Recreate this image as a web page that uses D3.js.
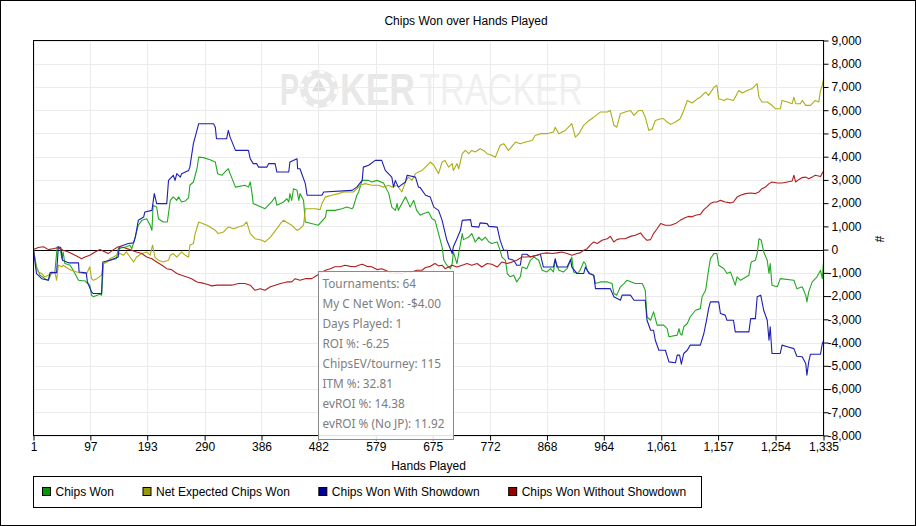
<!DOCTYPE html>
<html>
<head>
<meta charset="utf-8">
<script src="https://cdn.jsdelivr.net/npm/d3@7"></script>
<style>
  body { margin: 0; background: #fff; }
  svg { display: block; font-family: "Liberation Sans", Arial, sans-serif; }
  .tip-text { font-family: "Noto Sans", sans-serif; font-size: 11.8px; fill: #7d7d7d; }
</style>
</head>
<body>
<svg id="chart" width="916" height="526"></svg>
<script>
const title = "Chips Won over Hands Played";
const xTicks = [1, 97, 193, 290, 386, 482, 579, 675, 772, 868, 964, 1061, 1157, 1254, 1335];
const yTicks = [-8000, -7000, -6000, -5000, -4000, -3000, -2000, -1000, 0, 1000, 2000, 3000, 4000, 5000, 6000, 7000, 8000, 9000];
const seriesNames = ["Chips Won", "Net Expected Chips Won", "Chips Won With Showdown", "Chips Won Without Showdown"];
const lineColors = ["#22a822", "#adad16", "#1e1eb4", "#b31e1e"];
const swatchColors = ["#009900", "#999900", "#000099", "#990000"];
const tipLines = ["Tournaments: 64", "My C Net Won: -$4.00", "Days Played: 1", "ROI %: -6.25", "ChipsEV/tourney: 115", "ITM %: 32.81", "evROI %: 14.38", "evROI % (No JP): 11.92"];

// [hand, chips]
const chipsWon = [[1,0],[6,-740],[12,-1100],[20,-1250],[26,-1320],[32,-960],[37,-1000],[41,120],[46,40],[49,-390],[51,-100],[54,-600],[63,-670],[71,-1030],[77,-1320],[88,-1350],[91,-1430],[96,-1530],[99,-1960],[102,-2030],[113,-1920],[116,-1960],[119,-600],[130,-460],[141,-390],[144,40],[158,120],[164,190],[167,40],[172,470],[178,1050],[184,1260],[192,1330],[198,1050],[201,830],[203,1910],[209,1830],[212,1330],[220,1190],[227,1190],[232,2120],[237,2270],[243,2120],[246,2270],[251,2050],[257,2090],[263,2240],[265,2770],[271,2910],[277,3480],[280,3980],[288,3960],[299,3870],[308,3770],[312,3270],[319,3200],[327,3410],[330,3480],[333,3270],[342,2690],[358,2770],[364,2690],[367,2910],[370,2410],[372,1980],[392,1760],[403,2050],[409,2260],[412,1910],[423,2050],[429,2190],[432,2050],[434,2410],[437,2120],[440,2620],[446,2550],[449,2120],[451,2410],[457,2120],[460,1190],[482,1050],[494,1400],[496,1690],[510,1690],[522,1760],[530,1830],[539,1760],[541,1830],[547,2340],[550,2480],[556,2980],[567,2980],[572,2910],[581,2980],[592,2870],[601,2410],[606,1830],[612,1690],[615,1980],[617,1690],[629,2270],[632,2120],[637,1830],[643,2120],[648,1690],[654,1480],[660,1550],[668,1620],[674,1330],[679,1260],[685,690],[691,110],[694,-460],[699,-670],[705,-820],[708,-600],[710,-100],[716,-600],[719,-170],[725,690],[727,430],[736,540],[741,690],[747,330],[753,540],[758,400],[764,540],[770,330],[775,260],[784,330],[789,-30],[792,-320],[798,-460],[801,-1030],[806,-1170],[812,-1100],[817,-1390],[823,-1170],[826,-750],[834,-820],[840,-460],[846,-320],[854,-460],[860,-890],[868,-960],[874,-820],[879,-960],[882,-460],[888,-890],[896,-960],[902,-820],[908,-460],[910,-320],[913,-960],[919,-1030],[924,-890],[930,-530],[933,-600],[936,-890],[941,-1030],[947,-1100],[950,-1460],[958,-1390],[970,-1390],[978,-1460],[981,-1890],[986,-1960],[992,-1600],[998,-1460],[1003,-1320],[1017,-1460],[1029,-1460],[1034,-1750],[1037,-2890],[1043,-3040],[1048,-2680],[1054,-3250],[1065,-3250],[1071,-3400],[1074,-3750],[1088,-3680],[1091,-3400],[1093,-3610],[1096,-3680],[1099,-3320],[1105,-3180],[1110,-2890],[1119,-2610],[1127,-2540],[1130,-2030],[1136,-1750],[1140,-1030],[1144,-390],[1150,-170],[1155,-170],[1158,-670],[1167,-820],[1172,-1030],[1178,-960],[1186,-1530],[1189,-1170],[1195,-1320],[1209,-1100],[1213,-530],[1220,-460],[1223,-170],[1226,470],[1230,400],[1234,-100],[1240,-460],[1243,-1030],[1245,-600],[1248,-1530],[1257,-1600],[1262,-1250],[1285,-1320],[1290,-1680],[1299,-1600],[1305,-1960],[1307,-2250],[1310,-1820],[1316,-1390],[1324,-1170],[1330,-890],[1333,-1250],[1335,-530]];

const netExpected = [[1,0],[5,-740],[9,-960],[15,-1030],[20,-1180],[26,-1100],[32,-1030],[37,-960],[40,-1320],[43,-670],[49,-740],[51,-670],[60,-820],[65,-890],[74,-960],[85,-1030],[91,-1030],[96,-740],[99,-1250],[102,-1320],[108,-1250],[116,-1100],[119,-600],[125,-530],[130,-390],[136,-320],[141,-240],[147,-170],[153,-240],[158,-100],[164,-320],[170,-530],[175,-320],[184,-170],[192,-100],[198,-240],[202,190],[206,-320],[212,-460],[220,-530],[229,-460],[232,-240],[237,-170],[243,-320],[251,-100],[257,-240],[263,-320],[265,190],[271,260],[274,690],[280,1190],[294,1050],[308,830],[313,690],[322,760],[330,975],[339,900],[347,970],[356,1050],[361,1190],[367,690],[375,470],[387,400],[392,330],[401,540],[412,900],[418,1120],[423,1260],[432,1120],[437,1050],[446,830],[451,900],[457,1050],[460,1760],[477,1760],[485,1720],[488,1980],[494,2270],[505,2340],[516,2410],[525,2480],[541,2480],[547,2620],[553,2770],[561,2840],[572,2770],[584,2770],[592,2690],[601,2770],[606,2690],[615,2770],[623,2480],[629,2910],[634,3120],[640,2980],[646,3270],[651,3340],[657,3410],[663,3550],[671,3770],[677,3630],[685,3270],[691,3770],[696,3840],[702,3550],[708,3700],[710,3410],[716,3700],[719,3480],[725,4130],[730,4270],[736,4130],[741,4270],[747,4200],[755,4340],[761,4270],[767,4130],[775,4060],[781,3980],[789,4490],[795,4560],[803,4270],[815,4630],[823,4560],[832,4630],[843,4700],[848,4910],[857,4990],[868,4990],[879,5060],[882,5270],[888,4990],[899,5130],[910,5420],[916,4840],[922,4990],[930,5350],[939,5560],[947,5700],[958,5920],[970,5920],[975,5990],[981,5350],[986,5270],[992,5850],[1000,5920],[1009,5990],[1015,5780],[1023,5990],[1029,5990],[1034,5700],[1040,5130],[1046,5200],[1051,5560],[1060,5630],[1065,5630],[1071,5490],[1077,5390],[1085,5490],[1093,5630],[1099,5990],[1105,6420],[1113,6310],[1122,6490],[1127,6560],[1136,6780],[1141,6640],[1150,6990],[1155,7070],[1158,6490],[1167,6420],[1172,6490],[1178,6450],[1183,6420],[1192,6850],[1198,6740],[1206,6850],[1214,6920],[1223,7140],[1226,6560],[1231,6350],[1240,6350],[1248,6210],[1254,6060],[1262,6060],[1265,6420],[1274,6350],[1282,6280],[1285,6560],[1288,6280],[1296,6280],[1299,6420],[1305,6210],[1313,6210],[1321,6420],[1327,6350],[1330,6850],[1333,7070],[1335,7350]];

const withShowdown = [[1,0],[6,-1030],[15,-1250],[26,-1320],[29,-990],[40,-990],[43,120],[47,90],[50,-460],[60,-570],[77,-570],[78,-960],[90,-1000],[92,-1390],[99,-1820],[102,-1890],[116,-1890],[118,-530],[130,-460],[144,-320],[146,120],[161,260],[170,290],[173,540],[178,1260],[187,1400],[189,1620],[201,1690],[205,2410],[209,1980],[226,1980],[229,2980],[237,3200],[240,2980],[243,3270],[249,3120],[251,3270],[263,3410],[265,3550],[271,4560],[277,5130],[280,5420],[305,5420],[308,5270],[310,4770],[327,4770],[330,5130],[333,4840],[342,4270],[364,4270],[367,3910],[372,3700],[378,3700],[381,3550],[395,3550],[398,3700],[409,3700],[412,3340],[432,3340],[434,3770],[446,3910],[447,3480],[451,3480],[460,2840],[463,2340],[488,2340],[491,2480],[539,2550],[547,2690],[556,2980],[558,3550],[567,3630],[578,3840],[589,3840],[595,3410],[606,3120],[609,2690],[612,2980],[617,2690],[629,2910],[632,3200],[646,3120],[651,2690],[654,2670],[663,2340],[671,2260],[677,1830],[685,1690],[691,1260],[699,400],[708,-170],[710,120],[716,470],[722,830],[725,1260],[739,1290],[741,1000],[753,970],[755,1150],[767,1120],[770,1000],[784,970],[789,400],[795,-30],[801,-30],[803,-390],[812,-460],[817,-670],[823,-670],[826,-200],[834,-200],[840,-320],[857,-200],[862,-750],[879,-750],[882,-390],[885,-750],[902,-750],[908,-430],[910,-750],[919,-1030],[930,-1030],[933,-750],[939,-1030],[947,-1100],[950,-1680],[975,-1680],[981,-2030],[992,-2180],[995,-1960],[1009,-1960],[1015,-2180],[1034,-2180],[1037,-3040],[1043,-3470],[1048,-3470],[1051,-3900],[1057,-4330],[1068,-4330],[1074,-4830],[1085,-4870],[1088,-4540],[1092,-4540],[1095,-4930],[1099,-4470],[1105,-4330],[1110,-4110],[1127,-4110],[1133,-3610],[1138,-2970],[1141,-2540],[1144,-2250],[1158,-2250],[1161,-2750],[1169,-2820],[1172,-3040],[1183,-3040],[1186,-3540],[1209,-3540],[1212,-2970],[1220,-2970],[1223,-2030],[1229,-1960],[1234,-2610],[1240,-3040],[1243,-3900],[1245,-3320],[1248,-4470],[1262,-4470],[1265,-4110],[1274,-4180],[1285,-4260],[1290,-4590],[1299,-4610],[1305,-4900],[1307,-5400],[1310,-4830],[1313,-4500],[1330,-4500],[1333,-4040],[1335,-3930]];

const withoutShowdown = [[1,0],[9,90],[18,120],[26,0],[34,40],[43,90],[51,-30],[60,-100],[68,-200],[77,-320],[82,-390],[88,-320],[96,-240],[105,-100],[113,0],[122,-100],[127,-170],[136,0],[144,120],[153,90],[164,0],[175,-100],[184,-170],[192,-320],[201,-390],[209,-530],[218,-670],[226,-820],[234,-860],[243,-1030],[251,-1100],[260,-1180],[268,-1250],[277,-1390],[285,-1430],[294,-1490],[302,-1560],[311,-1530],[319,-1530],[330,-1530],[336,-1530],[347,-1460],[358,-1460],[367,-1530],[375,-1750],[384,-1680],[392,-1750],[401,-1600],[409,-1530],[418,-1460],[429,-1390],[437,-1390],[443,-1250],[451,-1320],[460,-1250],[471,-1250],[480,-1100],[485,-1030],[494,-890],[502,-820],[510,-740],[519,-740],[527,-670],[536,-720],[544,-740],[550,-670],[556,-630],[564,-720],[572,-740],[581,-860],[589,-820],[598,-920],[606,-1030],[615,-1000],[623,-1030],[632,-960],[640,-960],[648,-890],[657,-890],[663,-770],[671,-720],[679,-600],[685,-700],[691,-670],[696,-820],[702,-750],[708,-670],[716,-750],[725,-670],[733,-600],[741,-670],[750,-600],[758,-750],[767,-600],[775,-630],[784,-750],[792,-530],[801,-600],[809,-530],[817,-460],[826,-320],[834,-320],[843,-290],[851,-240],[860,-170],[868,-140],[877,-170],[885,-140],[893,-100],[902,-170],[910,-240],[919,-170],[924,-140],[930,-30],[936,40],[941,190],[947,330],[953,260],[961,400],[970,470],[975,570],[981,330],[986,430],[992,470],[1000,470],[1009,570],[1017,620],[1026,720],[1031,550],[1037,400],[1043,430],[1048,690],[1054,900],[1060,1120],[1068,1050],[1077,1050],[1085,1120],[1093,1260],[1102,1380],[1107,1430],[1113,1410],[1119,1480],[1127,1520],[1133,1720],[1138,1830],[1144,1980],[1150,2050],[1155,2050],[1161,2120],[1169,2050],[1178,2010],[1183,2050],[1189,2260],[1195,2340],[1203,2410],[1212,2440],[1220,2410],[1226,2480],[1231,2620],[1237,2690],[1243,2840],[1248,2910],[1257,2870],[1265,2870],[1274,2910],[1282,2950],[1285,3200],[1288,2910],[1293,3010],[1299,3100],[1305,3120],[1310,3050],[1316,3120],[1321,3200],[1330,3150],[1333,3300],[1335,3380]];

const allSeries = [chipsWon, netExpected, withShowdown, withoutShowdown];

const svg = d3.select("#chart");
const plotL = 33.5, plotR = 823.5, plotT = 40.5, plotB = 435.5;
const x = d3.scaleLinear().domain([1, 1335]).range([plotL, plotR]);
const y = d3.scaleLinear().domain([-8000, 9000]).range([plotB, plotT]);
const fmt = d3.format(",");
const label = d => (d < 0 ? "-" : "") + fmt(Math.abs(d));

// squeeze a text horizontally into a given width
function fitText(sel, tx, ty, w) {
  const natural = sel.node().getComputedTextLength();
  sel.attr("transform", `translate(${tx},${ty}) scale(${w / natural},1)`);
  return sel;
}

// outer border + title
svg.append("rect").attr("x", 0.5).attr("y", 0.5).attr("width", 915).attr("height", 525)
   .attr("fill", "#fff").attr("stroke", "#000");
svg.append("text").attr("x", 466).attr("y", 25).attr("text-anchor", "middle")
   .style("font-size", "12px").text(title);

// watermark
const wm = svg.append("g").attr("fill", "#e8e8e8");
fitText(wm.append("text").style("font-size", "45px").style("font-weight", "bold").text("P"), 280, 105, 19);
wm.append("circle").attr("cx", 319).attr("cy", 89).attr("r", 19);
wm.append("circle").attr("cx", 319).attr("cy", 89).attr("r", 17).attr("fill", "none")
  .attr("stroke", "#fff").attr("stroke-width", 3).attr("stroke-dasharray", "5 8.35");
wm.append("circle").attr("cx", 319).attr("cy", 89).attr("r", 11).attr("fill", "#fff");
wm.append("path").attr("d", d3.symbol(d3.symbolTriangle, 90)()).attr("transform", "translate(319,87)")
  .attr("fill", "#dedede");
fitText(wm.append("text").style("font-size", "45px").style("font-weight", "bold").text("KER"), 340, 105, 75);
fitText(wm.append("text").style("font-size", "45px").attr("fill", "#f0f0f0").text("TRACKER"), 419, 105, 164);

// grid
svg.append("g").selectAll("line").data(xTicks).join("line")
   .attr("x1", d => Math.round(x(d)) + 0.5).attr("x2", d => Math.round(x(d)) + 0.5).attr("y1", plotT).attr("y2", plotB)
   .attr("stroke", "#ebebeb");
svg.append("g").selectAll("line").data(yTicks).join("line")
   .attr("x1", plotL).attr("x2", plotR).attr("y1", d => Math.round(y(d)) + 0.5).attr("y2", d => Math.round(y(d)) + 0.5)
   .attr("stroke", "#ebebeb");

// zero line
svg.append("line").attr("x1", plotL).attr("x2", plotR).attr("y1", Math.round(y(0)) + 0.5).attr("y2", Math.round(y(0)) + 0.5)
   .attr("stroke", "#000");

// series
const line = d3.line().x(d => x(d[0])).y(d => y(d[1]));
svg.append("g").selectAll("path").data(allSeries).join("path")
   .attr("d", line).attr("fill", "none").attr("stroke", (d, i) => lineColors[i])
   .attr("stroke-width", 1.1).attr("stroke-linejoin", "round");

// frame
svg.append("rect").attr("x", plotL).attr("y", plotT).attr("width", plotR - plotL).attr("height", plotB - plotT)
   .attr("fill", "none").attr("stroke", "#000");

// axes
const yAxis = svg.append("g").attr("transform", `translate(${plotR},0)`)
   .call(d3.axisRight(y).tickValues(yTicks).tickSize(5).tickSizeOuter(0).tickPadding(3).tickFormat(label));
yAxis.select(".domain").remove();
yAxis.selectAll("text").style("font-size", "12px").style("font-family", "Liberation Sans")
   .attr("dx", d => d < 0 ? -4 : 0);
yAxis.selectAll("line").attr("stroke", "#000");

const xAxis = svg.append("g").attr("transform", `translate(0,${plotB})`)
   .call(d3.axisBottom(x).tickValues(xTicks).tickSize(5).tickSizeOuter(0).tickPadding(2).tickFormat(fmt));
xAxis.select(".domain").remove();
xAxis.selectAll("text").style("font-size", "12px").style("font-family", "Liberation Sans");

svg.append("text").attr("x", (plotL + plotR) / 2).attr("y", 470).attr("text-anchor", "middle")
   .style("font-size", "12px").text("Hands Played");
svg.append("text").attr("transform", "translate(875,239) rotate(90)").attr("text-anchor", "middle")
   .style("font-size", "12px").text("#");

// stats box
const tip = svg.append("g");
tip.append("rect").attr("x", 318.5).attr("y", 271.5).attr("width", 135).attr("height", 168)
   .attr("fill", "#fff").attr("fill-opacity", 0.88).attr("stroke", "#8a8a8a");
tip.selectAll("text").data(tipLines).join("text").attr("class", "tip-text")
   .attr("x", 322.5).attr("y", (d, i) => 288 + i * 20).text(d => d);

// legend
svg.append("rect").attr("x", 33.5).attr("y", 476.5).attr("width", 668).attr("height", 31)
   .attr("fill", "none").attr("stroke", "#000");
let lx = 42.5;
seriesNames.forEach((name, i) => {
  svg.append("rect").attr("x", lx).attr("y", 487.5).attr("width", 8).attr("height", 8)
     .attr("fill", swatchColors[i]).attr("stroke", "#000");
  const t = svg.append("text").attr("x", lx + 13).attr("y", 496).style("font-size", "12px").text(name);
  lx += 13 + t.node().getComputedTextLength() + 29;
});
</script>
</body>
</html>
